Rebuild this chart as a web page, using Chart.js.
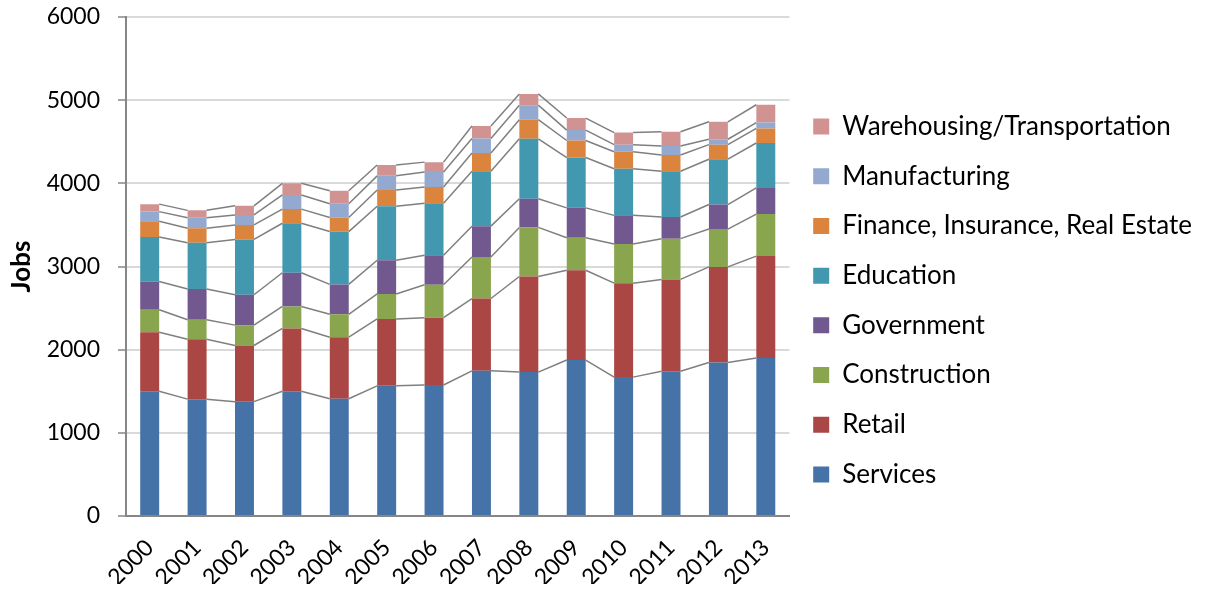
<!DOCTYPE html>
<html>
<head>
<meta charset="utf-8">
<script src="https://cdn.jsdelivr.net/npm/chart.js@4"></script>
<style>
  body { margin: 0; background: #fff; }
</style>
</head>
<body>
<canvas id="jobs-chart" width="1207" height="592"></canvas>
<script>
var years = ["2000", "2001", "2002", "2003", "2004", "2005", "2006", "2007", "2008", "2009", "2010", "2011", "2012", "2013"];

var services      = [1500, 1405, 1375, 1500, 1410, 1565, 1575, 1745, 1730, 1875, 1670, 1740, 1845, 1900];
var retail        = [710, 720, 675, 755, 740, 805, 810, 870, 1150, 1080, 1130, 1105, 1150, 1225];
var construction  = [270, 235, 245, 265, 275, 300, 395, 500, 590, 390, 470, 490, 455, 505];
var government    = [340, 370, 365, 405, 360, 405, 355, 370, 345, 360, 345, 260, 295, 315];
var education     = [535, 555, 665, 595, 635, 650, 625, 660, 720, 605, 560, 550, 545, 540];
var finance       = [190, 175, 175, 170, 170, 195, 195, 220, 230, 205, 205, 195, 175, 175];
var manufacturing = [115, 125, 120, 170, 165, 170, 180, 175, 175, 125, 85, 110, 65, 70];
var warehousing   = [90, 90, 110, 140, 155, 130, 120, 150, 135, 145, 145, 170, 210, 215];

var yTicks = [0, 1000, 2000, 3000, 4000, 5000, 6000];

var font = "Lato, 'Open Sans', sans-serif";

// Excel-style series lines between the stacked segments
var seriesLines = {
  id: 'seriesLines',
  afterDatasetsDraw: function (chart) {
    var ctx = chart.ctx;
    ctx.save();
    ctx.strokeStyle = '#7f7f7f';
    ctx.lineWidth = 1.5;
    chart.data.datasets.forEach(function (ds, d) {
      var bars = chart.getDatasetMeta(d).data;
      for (var i = 0; i < bars.length - 1; i++) {
        ctx.beginPath();
        ctx.moveTo(bars[i].x + bars[i].width / 2, bars[i].y);
        ctx.lineTo(bars[i + 1].x - bars[i + 1].width / 2, bars[i + 1].y);
        ctx.stroke();
      }
    });
    ctx.restore();
  }
};

new Chart(document.getElementById("jobs-chart"), {
    type: 'bar',
    data: {
      labels: years,
      datasets: [
        { label: "Services", backgroundColor: '#4572a7', data: services },
        { label: "Retail", backgroundColor: '#aa4643', data: retail },
        { label: "Construction", backgroundColor: '#89a54e', data: construction },
        { label: "Government", backgroundColor: '#71588f', data: government },
        { label: "Education", backgroundColor: '#4198af', data: education },
        { label: "Finance, Insurance, Real Estate", backgroundColor: '#db843d', data: finance },
        { label: "Manufacturing", backgroundColor: '#93a9cf', data: manufacturing },
        { label: "Warehousing/Transportation", backgroundColor: '#d19392', data: warehousing }
      ]
    },
    options: {
      responsive: false,
      animation: false,
      categoryPercentage: 1,
      barPercentage: 0.4,
      layout: { padding: { top: 17, bottom: 8, left: 0, right: 5 } },
      plugins: {
        legend: {
          position: 'right',
          reverse: true,
          maxWidth: 460,
          labels: {
            boxWidth: 16,
            boxHeight: 16,
            padding: 23.7,
            color: '#000',
            font: { family: font, size: 26 }
          }
        },
        tooltip: { enabled: false }
      },
      scales: {
        x: {
          stacked: true,
          afterFit: function (scale) { scale.height = 68; },
          grid: { display: false, drawTicks: false },
          border: { color: '#868686', width: 2 },
          ticks: {
            color: '#000',
            font: { family: font, size: 23 },
            minRotation: 45,
            maxRotation: 45,
            padding: 18
          }
        },
        y: {
          stacked: true,
          min: yTicks[0],
          max: yTicks[yTicks.length - 1],
          afterBuildTicks: function (scale) {
            scale.ticks = yTicks.map(function (v) { return { value: v }; });
          },
          afterFit: function (scale) {
            scale.width = 126;
            scale.paddingTop = 0;
          },
          grid: { color: '#d9d9d9', lineWidth: 2, tickColor: '#868686', tickLength: 8, tickWidth: 1.5 },
          border: { color: '#868686', width: 2 },
          ticks: {
            color: '#000',
            font: { family: font, size: 23 },
            padding: 18,
            callback: function (value) { return String(value); }
          },
          title: {
            display: true,
            text: 'Jobs',
            color: '#000',
            padding: { top: 6, bottom: 4 },
            font: { family: font, size: 26, weight: 'bold' }
          }
        }
      }
    },
    plugins: [seriesLines]
});
</script>
</body>
</html>
